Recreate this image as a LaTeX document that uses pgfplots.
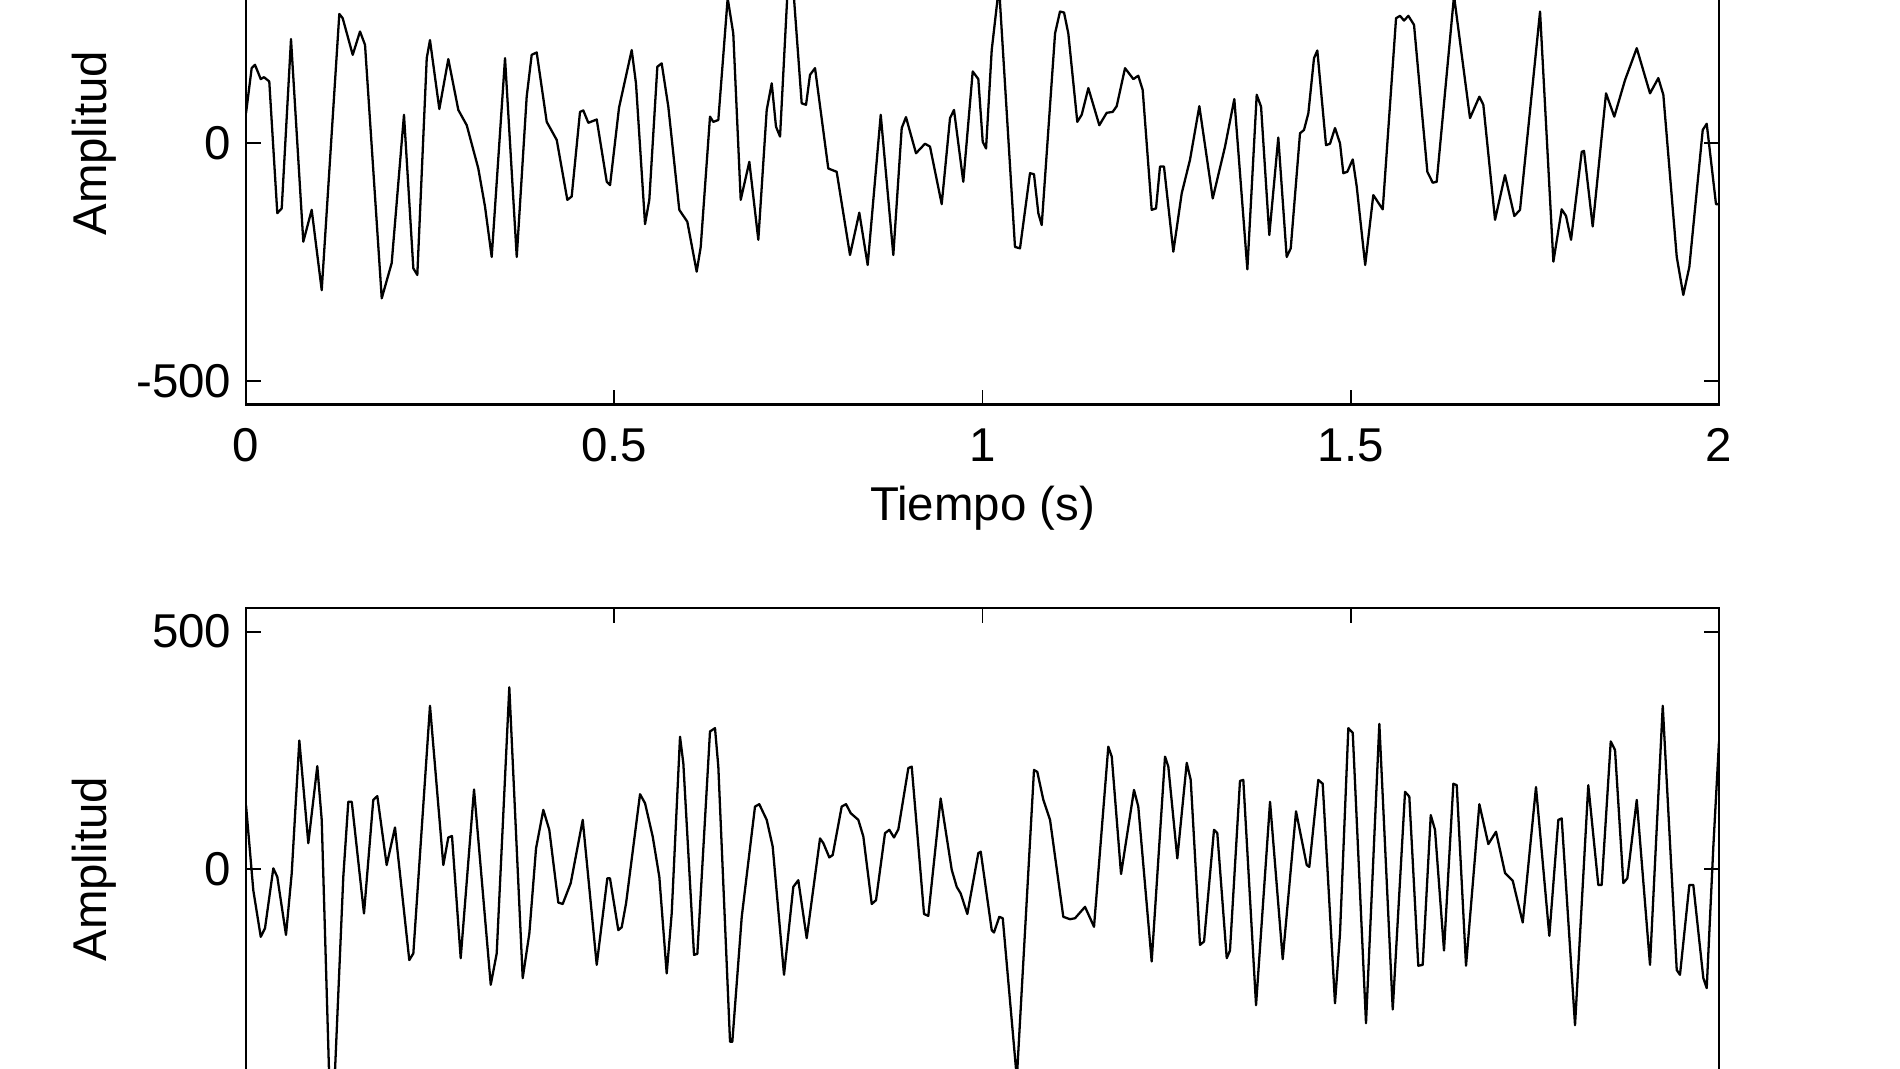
\documentclass[border=0pt]{standalone}
\usepackage{fontspec}
\setmainfont{Liberation Sans}
\usepackage{pgfplots}
\pgfplotsset{compat=1.18}

\pgfplotsset{
  senal/.style={
    scale only axis,
    width=14.73cm,
    xmin=0, xmax=2,
    ymin=-550, ymax=550,
    xtick={0,0.5,1,1.5,2},
    ytick={-500,0,500},
    tick align=inside,
    major tick length=0.15cm,
    tick style={black, line width=0.5pt},
    axis line style={line width=0.75pt},
    font=\fontsize{13.5}{16}\selectfont,
    xticklabel style={inner sep=0pt, yshift=-0.23cm},
    yticklabel style={inner sep=0pt, xshift=-0.14cm},
    ylabel={Amplitud},
    ylabel style={at={(axis description cs:-0.0876,0.5)}, anchor=south, inner sep=0pt},
  },
}

\begin{document}
\begin{tikzpicture}
  \useasboundingbox (0,0) rectangle (19,10.69);
  \fill[white] (0,0) rectangle (19,10.69);
  \clip (0,0) rectangle (19,10.69);

  % upper signal (top of the axis is cut off in the reference)
  \begin{axis}[
      senal,
      at={(2.46cm,6.642cm)}, anchor=south west,
      height=5.23cm,
      xticklabels={0,0.5,1,1.5,2},
      yticklabels={-500,0,{}},
      xlabel={Tiempo (s)},
      xlabel style={at={(axis description cs:0.5,0)}, anchor=north, yshift=-0.81cm, inner sep=0pt},
    ]
    \addplot[black, line width=0.65pt, line join=round] coordinates {
        (0,63) (0.0077,158) (0.0122,165) (0.0200,135) (0.0244,139) (0.0316,130)
        (0.0425,-147) (0.0485,-137) (0.0611,219) (0.0778,-207) (0.0892,-140) (0.1028,-309)
        (0.1267,272) (0.1313,263) (0.1449,186) (0.1548,235) (0.1616,207) (0.1843,-326)
        (0.1978,-252) (0.2145,60) (0.2272,-263) (0.2326,-277) (0.2454,179) (0.2498,217)
        (0.2625,72) (0.2747,177) (0.2883,70) (0.2997,38) (0.3154,-53) (0.3245,-133)
        (0.3336,-239) (0.3517,179) (0.3676,-239) (0.3811,98) (0.3879,186) (0.3947,191)
        (0.4083,45) (0.4219,7) (0.4363,-119) (0.4422,-112) (0.4535,66) (0.4580,69)
        (0.4648,43) (0.4762,50) (0.4898,-81) (0.4943,-88) (0.5065,75) (0.5237,196)
        (0.5295,126) (0.5418,-170) (0.5476,-119) (0.5585,161) (0.5644,168) (0.5734,77)
        (0.5883,-140) (0.5992,-165) (0.6119,-270) (0.6174,-218) (0.6300,56) (0.6345,45)
        (0.6413,49) (0.6540,305) (0.6616,231) (0.6717,-119) (0.6834,-39) (0.6956,-203)
        (0.7070,70) (0.7138,126) (0.7196,35) (0.7251,14) (0.7386,420) (0.7545,84)
        (0.7604,81) (0.7658,144) (0.7726,158) (0.7906,-53) (0.8020,-60) (0.8201,-235)
        (0.8327,-146) (0.8441,-256) (0.8618,60) (0.8789,-235) (0.8903,32) (0.8961,55)
        (0.9097,-21) (0.9219,-1) (0.9287,-7) (0.9446,-128) (0.9559,53) (0.9613,70)
        (0.9739,-81) (0.9867,151) (0.9943,135) (1.0003,3) (1.0048,-11) (1.0125,196)
        (1.0224,330) (1.0441,-218) (1.0509,-221) (1.0645,-63) (1.0699,-65) (1.0758,-147)
        (1.0804,-172) (1.0985,231) (1.1052,277) (1.1107,275) (1.1165,231) (1.1287,45)
        (1.1347,60) (1.1437,116) (1.1586,38) (1.1686,64) (1.1768,66) (1.1822,78)
        (1.1935,158) (1.2048,135) (1.2115,142) (1.2175,112) (1.2297,-140) (1.2356,-137)
        (1.2410,-49) (1.2464,-49) (1.2591,-228) (1.2705,-105) (1.2817,-35) (1.2944,78)
        (1.3126,-116) (1.3293,-7) (1.3419,93) (1.3596,-265) (1.3723,102) (1.3782,77)
        (1.3894,-193) (1.4016,12) (1.4130,-239) (1.4185,-221) (1.4311,21) (1.4365,28)
        (1.4424,63) (1.4501,179) (1.4546,195) (1.4664,-4) (1.4718,-1) (1.4786,32)
        (1.4854,0) (1.4899,-63) (1.4953,-60) (1.5027,-34) (1.5081,-91) (1.5196,-256)
        (1.5306,-109) (1.5434,-139) (1.5615,263) (1.5669,268) (1.5723,258) (1.5782,268)
        (1.5859,249) (1.6040,-60) (1.6113,-83) (1.6167,-81) (1.6402,310) (1.6619,53)
        (1.6746,98) (1.6800,81) (1.6959,-161) (1.7094,-67) (1.7221,-153) (1.7298,-140)
        (1.7570,277) (1.7751,-249) (1.7864,-139) (1.7923,-153) (1.7991,-203) (1.8136,-18)
        (1.8167,-16) (1.8285,-175) (1.8466,105) (1.8578,56) (1.8724,133) (1.8883,200)
        (1.9063,105) (1.9176,137) (1.9244,102) (1.9426,-239) (1.9515,-319) (1.9597,-260)
        (1.9779,28) (1.9833,41) (1.9959,-128) (2.0,-128)
      };
  \end{axis}

  % lower signal (bottom of the axis is cut off in the reference)
  \begin{axis}[
      senal,
      at={(2.46cm,-0.617cm)}, anchor=south west,
      height=5.228cm,
      xticklabels={},
      yticklabels={{},0,500},
    ]
    \addplot[black, line width=0.65pt, line join=round] coordinates {
        (0,135) (0.0099,-44) (0.0200,-142) (0.0258,-124) (0.0371,2) (0.0425,-16)
        (0.0543,-138) (0.0621,-8) (0.0724,271) (0.0846,55) (0.0968,217) (0.1028,104)
        (0.1160,-600) (0.1321,-16) (0.1389,142) (0.1436,142) (0.1602,-93) (0.1728,146)
        (0.1783,154) (0.1910,9) (0.2023,88) (0.2217,-191) (0.2272,-177) (0.2498,344)
        (0.2679,9) (0.2747,67) (0.2797,70) (0.2915,-187) (0.3096,168) (0.3323,-243)
        (0.3404,-177) (0.3575,383) (0.3757,-229) (0.3847,-135) (0.3938,44) (0.4037,125)
        (0.4118,83) (0.4240,-70) (0.4300,-73) (0.4409,-29) (0.4572,104) (0.4762,-201)
        (0.4906,-19) (0.4942,-19) (0.5055,-128) (0.5101,-122) (0.5160,-72) (0.5350,158)
        (0.5418,139) (0.5522,69) (0.5612,-16) (0.5712,-219) (0.5780,-93) (0.5893,279)
        (0.5938,223) (0.6083,-180) (0.6128,-178) (0.6300,290) (0.6368,297) (0.6413,216)
        (0.6572,-363) (0.6603,-363) (0.6731,-100) (0.6911,132) (0.6969,137) (0.7070,104)
        (0.7151,48) (0.7305,-222) (0.7431,-37) (0.7499,-23) (0.7613,-145) (0.7794,65)
        (0.7839,55) (0.7920,25) (0.7966,30) (0.8088,132) (0.8147,137) (0.8211,118)
        (0.8314,104) (0.8382,69) (0.8496,-73) (0.8554,-65) (0.8676,76) (0.8735,83)
        (0.8798,67) (0.8857,84) (0.8993,213) (0.9039,216) (0.9206,-94) (0.9264,-98)
        (0.9432,149) (0.9582,-1) (0.9650,-37) (0.9704,-51) (0.9794,-94) (0.9943,34)
        (0.9976,37) (1.0125,-128) (1.0156,-133) (1.0228,-100) (1.0275,-103) (1.0466,-440)
        (1.0699,209) (1.0744,205) (1.0826,146) (1.0917,104) (1.1097,-100) (1.1188,-105)
        (1.1256,-103) (1.1392,-79) (1.1514,-121) (1.1708,258) (1.1755,237) (1.1881,-10)
        (1.2057,167) (1.2115,132) (1.2297,-194) (1.2478,237) (1.2523,216) (1.2645,23)
        (1.2773,224) (1.2827,188) (1.2953,-159) (1.3008,-152) (1.3143,83) (1.3188,76)
        (1.3316,-187) (1.3360,-171) (1.3496,186) (1.3541,188) (1.3714,-286) (1.3904,142)
        (1.4076,-189) (1.4257,122) (1.4402,9) (1.4437,5) (1.4559,188) (1.4619,180)
        (1.4786,-282) (1.4854,-135) (1.4967,297) (1.5027,287) (1.5207,-324) (1.5388,306)
        (1.5570,-295) (1.5737,163) (1.5795,153) (1.5917,-203) (1.5977,-201) (1.6086,114)
        (1.6144,83) (1.6266,-171) (1.6393,180) (1.6439,177) (1.6565,-203) (1.6746,137)
        (1.6868,53) (1.6972,79) (1.7095,-8) (1.7199,-24) (1.7335,-112) (1.7515,173)
        (1.7696,-140) (1.7818,104) (1.7864,107) (1.8045,-328) (1.8225,177) (1.8361,-33)
        (1.8407,-33) (1.8530,269) (1.8588,251) (1.8701,-29) (1.8755,-19) (1.8883,146)
        (1.9063,-201) (1.9236,344) (1.9426,-212) (1.9470,-222) (1.9597,-33) (1.9651,-33)
        (1.9787,-229) (1.9833,-250) (1.9923,48) (2.0,269)
      };
  \end{axis}
\end{tikzpicture}
\end{document}
